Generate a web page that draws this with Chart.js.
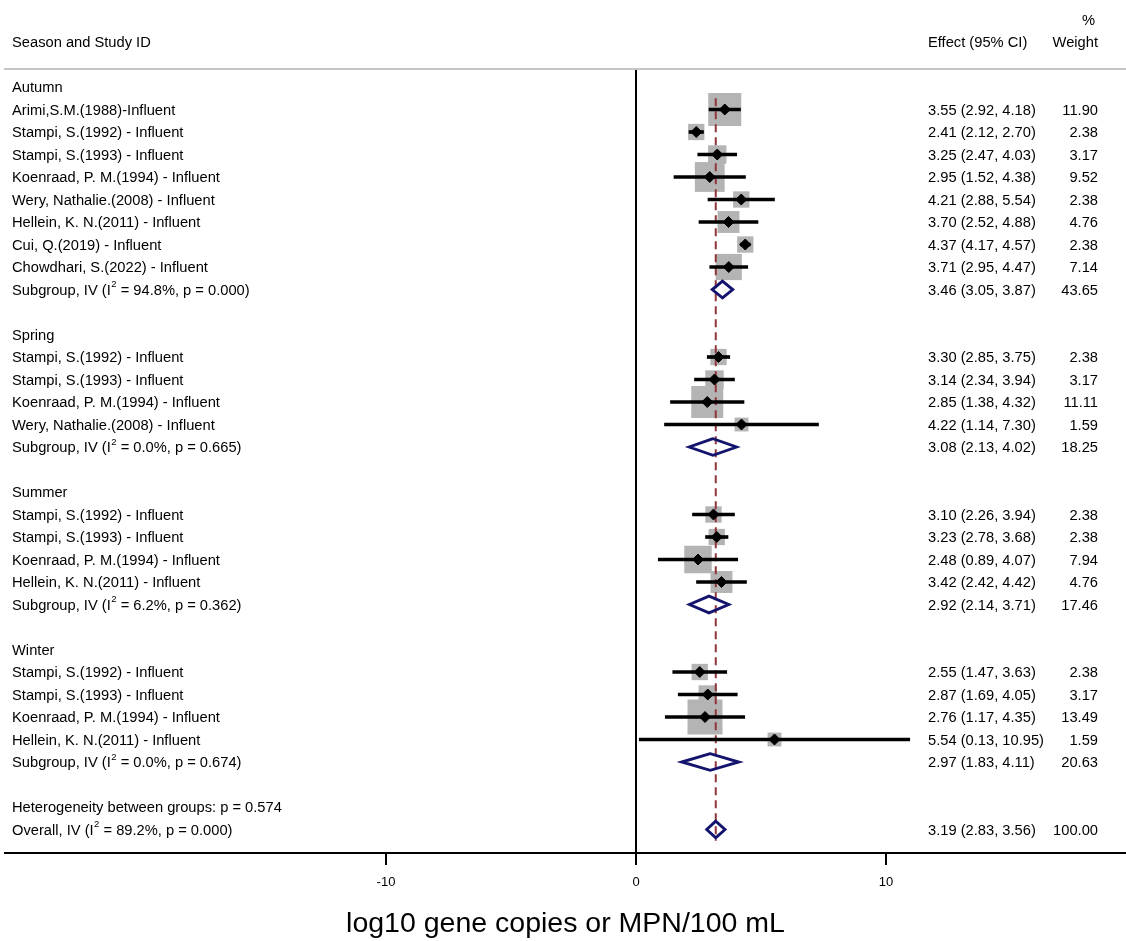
<!DOCTYPE html>
<html>
<head>
<meta charset="utf-8">
<title>Forest plot by season</title>
<script src="https://cdn.jsdelivr.net/npm/chart.js@4.4.1/dist/chart.umd.min.js"></script>
<style>
  html, body { margin: 0; padding: 0; background: #ffffff; }
  canvas { display: block; }
</style>
</head>
<body>
<canvas id="forest" width="1126" height="941"></canvas>
<script>
// ---- data -------------------------------------------------------------
const groupNames = ['Autumn', 'Spring', 'Summer', 'Winter'];

const studyNames = [
  'Arimi,S.M.(1988)-Influent',
  'Stampi, S.(1992) - Influent',
  'Stampi, S.(1993) - Influent',
  'Koenraad, P. M.(1994) - Influent',
  'Wery, Nathalie.(2008) - Influent',
  'Hellein, K. N.(2011) - Influent',
  'Cui, Q.(2019) - Influent',
  'Chowdhari, S.(2022) - Influent',
  'Stampi, S.(1992) - Influent',
  'Stampi, S.(1993) - Influent',
  'Koenraad, P. M.(1994) - Influent',
  'Wery, Nathalie.(2008) - Influent',
  'Stampi, S.(1992) - Influent',
  'Stampi, S.(1993) - Influent',
  'Koenraad, P. M.(1994) - Influent',
  'Hellein, K. N.(2011) - Influent',
  'Stampi, S.(1992) - Influent',
  'Stampi, S.(1993) - Influent',
  'Koenraad, P. M.(1994) - Influent',
  'Hellein, K. N.(2011) - Influent'
];
const studyGroup  = [0, 0, 0, 0, 0, 0, 0, 0, 1, 1, 1, 1, 2, 2, 2, 2, 3, 3, 3, 3];
const studyEffect = [3.55, 2.41, 3.25, 2.95, 4.21, 3.70, 4.37, 3.71, 3.30, 3.14, 2.85, 4.22, 3.10, 3.23, 2.48, 3.42, 2.55, 2.87, 2.76, 5.54];
const studyLower  = [2.92, 2.12, 2.47, 1.52, 2.88, 2.52, 4.17, 2.95, 2.85, 2.34, 1.38, 1.14, 2.26, 2.78, 0.89, 2.42, 1.47, 1.69, 1.17, 0.13];
const studyUpper  = [4.18, 2.70, 4.03, 4.38, 5.54, 4.88, 4.57, 4.47, 3.75, 3.94, 4.32, 7.30, 3.94, 3.68, 4.07, 4.42, 3.63, 4.05, 4.35, 10.95];
const studyWeight = [11.90, 2.38, 3.17, 9.52, 2.38, 4.76, 2.38, 7.14, 2.38, 3.17, 11.11, 1.59, 2.38, 2.38, 7.94, 4.76, 2.38, 3.17, 13.49, 1.59];

const subgroupEffect = [3.46, 3.08, 2.92, 2.97];
const subgroupLower  = [3.05, 2.13, 2.14, 1.83];
const subgroupUpper  = [3.87, 4.02, 3.71, 4.11];
const subgroupWeight = [43.65, 18.25, 17.46, 20.63];
const subgroupI2     = ['94.8', '0.0', '6.2', '0.0'];
const subgroupP      = ['0.000', '0.665', '0.362', '0.674'];

const overallEffect = 3.19;
const overallLower  = 2.83;
const overallUpper  = 3.56;
const overallWeight = 100.00;
const overallI2     = '89.2';
const overallP      = '0.000';
const betweenGroupsP = '0.574';

const xTicks = [-10, 0, 10];
const xTitle = 'log10 gene copies or MPN/100 mL';

// ---- row layout (one row per line of the table) -----------------------
const tableRows = [];
const studyRow = [];
const subgroupRow = [];
let nextRow = 0;
groupNames.forEach((name, g) => {
  tableRows.push({ kind: 'group', g, row: nextRow++ });
  studyNames.forEach((s, i) => {
    if (studyGroup[i] === g) {
      studyRow[i] = nextRow;
      tableRows.push({ kind: 'study', i, row: nextRow++ });
    }
  });
  subgroupRow[g] = nextRow;
  tableRows.push({ kind: 'subgroup', g, row: nextRow++ });
  nextRow++; // empty spacer row
});
const betweenRow = nextRow++;
const overallRow = nextRow++;
tableRows.push({ kind: 'between', row: betweenRow });
tableRows.push({ kind: 'overall', row: overallRow });

// ---- styling ----------------------------------------------------------
const FONT = '"Liberation Sans", Arial, Helvetica, sans-serif';
const TEXT_SIZE = 14.7;
const NAVY = '#14146f';
const MAROON = '#90353b';
const BOX_GREY = '#b4b4b4';
const LABEL_X = 12, EFFECT_X = 928, WEIGHT_X = 1098;
const TEXT_DY = 1;          // nudge so glyphs sit visually centred on a row
const DIAMOND_HALF = 0.37;  // half height of pooled diamonds, in rows

const fmtCI = (e, l, u) => `${e.toFixed(2)} (${l.toFixed(2)}, ${u.toFixed(2)})`;
const boxRadius = w => (8.76 * Math.sqrt(w) + 2.8) / Math.SQRT2;

function diamond(est, lo, hi, row) {
  return [
    { x: lo, y: row }, { x: est, y: row - DIAMOND_HALF }, { x: hi, y: row },
    { x: est, y: row + DIAMOND_HALF }, { x: lo, y: row }, { x: est, y: row - DIAMOND_HALF }
  ];
}
function diamondDataset(points) {
  return {
    type: 'scatter', showLine: true, data: points,
    borderColor: NAVY, borderWidth: 2.9, borderJoinStyle: 'miter',
    pointRadius: 0, fill: false, order: 1
  };
}

// ---- text columns -----------------------------------------------------
function drawI2(ctx, x, y, prefix, i2, p) {
  ctx.font = `${TEXT_SIZE}px ${FONT}`;
  const head = prefix + ' (I';
  ctx.fillText(head, x, y);
  let cx = x + ctx.measureText(head).width + 0.5;
  ctx.font = `9.5px ${FONT}`;
  ctx.fillText('2', cx, y - 6);
  cx += ctx.measureText('2').width;
  ctx.font = `${TEXT_SIZE}px ${FONT}`;
  ctx.fillText(` = ${i2}%, p = ${p})`, cx, y);
}

const tablePlugin = {
  id: 'forestTable',
  afterDraw(chart) {
    const { ctx, chartArea, scales: { y } } = chart;
    const rowY = r => y.getPixelForValue(r) + TEXT_DY;
    ctx.save();
    // header rule
    ctx.fillStyle = '#c6c6c6';
    ctx.fillRect(4, chartArea.top - 1, chart.width - 4, 2);

    ctx.fillStyle = '#000';
    ctx.textBaseline = 'middle';
    ctx.font = `${TEXT_SIZE}px ${FONT}`;

    // column headings
    ctx.textAlign = 'left';
    ctx.fillText('Season and Study ID', LABEL_X, rowY(-2));
    ctx.fillText('Effect (95% CI)', EFFECT_X, rowY(-2));
    ctx.textAlign = 'right';
    ctx.fillText('Weight', WEIGHT_X, rowY(-2));
    ctx.fillText('%', WEIGHT_X - 3, rowY(-3));

    tableRows.forEach(r => {
      const py = rowY(r.row);
      ctx.textAlign = 'left';
      if (r.kind === 'group') {
        ctx.fillText(groupNames[r.g], LABEL_X, py);
      } else if (r.kind === 'study') {
        const i = r.i;
        ctx.fillText(studyNames[i], LABEL_X, py);
        ctx.fillText(fmtCI(studyEffect[i], studyLower[i], studyUpper[i]), EFFECT_X, py);
        ctx.textAlign = 'right';
        ctx.fillText(studyWeight[i].toFixed(2), WEIGHT_X, py);
      } else if (r.kind === 'subgroup') {
        const g = r.g;
        drawI2(ctx, LABEL_X, py, 'Subgroup, IV', subgroupI2[g], subgroupP[g]);
        ctx.textAlign = 'left';
        ctx.fillText(fmtCI(subgroupEffect[g], subgroupLower[g], subgroupUpper[g]), EFFECT_X, py);
        ctx.textAlign = 'right';
        ctx.fillText(subgroupWeight[g].toFixed(2), WEIGHT_X, py);
      } else if (r.kind === 'between') {
        ctx.fillText(`Heterogeneity between groups: p = ${betweenGroupsP}`, LABEL_X, py);
      } else if (r.kind === 'overall') {
        drawI2(ctx, LABEL_X, py, 'Overall, IV', overallI2, overallP);
        ctx.textAlign = 'left';
        ctx.fillText(fmtCI(overallEffect, overallLower, overallUpper), EFFECT_X, py);
        ctx.textAlign = 'right';
        ctx.fillText(overallWeight.toFixed(2), WEIGHT_X, py);
      }
    });
    ctx.restore();
  }
};

// ---- datasets ---------------------------------------------------------
const datasets = [
  { // study weight boxes
    type: 'scatter',
    data: studyEffect.map((e, i) => ({ x: e, y: studyRow[i] })),
    pointStyle: 'rect',
    pointRadius: studyWeight.map(boxRadius),
    backgroundColor: BOX_GREY, borderWidth: 0, order: 5
  },
  { // overall pooled estimate reference line
    type: 'scatter', showLine: true,
    data: [{ x: overallEffect, y: studyRow[0] - 0.5 }, { x: overallEffect, y: overallRow + 0.5 }],
    borderColor: MAROON, borderWidth: 2, borderDash: [8, 5],
    pointRadius: 0, fill: false, order: 4
  },
  { // 95% confidence intervals
    type: 'bar', indexAxis: 'y',
    data: studyLower.map((l, i) => ({ x: [l, studyUpper[i]], y: studyRow[i] })),
    barThickness: 3, backgroundColor: '#000', borderWidth: 0, order: 3
  },
  { // point estimates
    type: 'scatter',
    data: studyEffect.map((e, i) => ({ x: e, y: studyRow[i] })),
    pointStyle: 'rectRot', pointRadius: 5.5,
    backgroundColor: '#000', borderColor: '#000', borderWidth: 1, order: 2
  },
  ...subgroupEffect.map((e, g) => diamondDataset(diamond(e, subgroupLower[g], subgroupUpper[g], subgroupRow[g]))),
  diamondDataset(diamond(overallEffect, overallLower, overallUpper, overallRow))
];

new Chart(document.getElementById('forest'), {
  type: 'scatter',
  data: { datasets },
  plugins: [tablePlugin],
  options: {
    responsive: false,
    animation: false,
    events: [],
    layout: { autoPadding: false, padding: { left: 5, right: 0, top: 69, bottom: 0 } },
    plugins: { legend: { display: false }, tooltip: { enabled: false } },
    scales: {
      x: {
        type: 'linear', position: 'bottom', offset: false,
        min: -25.24, max: 19.6,
        afterBuildTicks: s => { s.ticks = xTicks.map(v => ({ value: v })); },
        afterFit: s => { s.height = 88; s.paddingLeft = 0; s.paddingRight = 0; },
        border: { display: true, color: '#000', width: 2 },
        grid: {
          drawOnChartArea: true, drawTicks: true,
          color: c => (c.tick && c.tick.value === 0) ? '#000' : 'rgba(0,0,0,0)',
          lineWidth: 2, tickColor: '#000', tickWidth: 2, tickLength: 12
        },
        ticks: {
          color: '#000', font: { family: FONT, size: 13 }, padding: 10,
          maxRotation: 0, autoSkip: false, callback: v => String(v)
        },
        title: {
          display: true, text: xTitle, color: '#000',
          font: { family: FONT, size: 28.5 }, padding: { top: 0, bottom: 0 }
        }
      },
      y: {
        type: 'linear', reverse: true, offset: false,
        min: -0.8, max: 34.044, display: false
      }
    }
  }
});
</script>
</body>
</html>
